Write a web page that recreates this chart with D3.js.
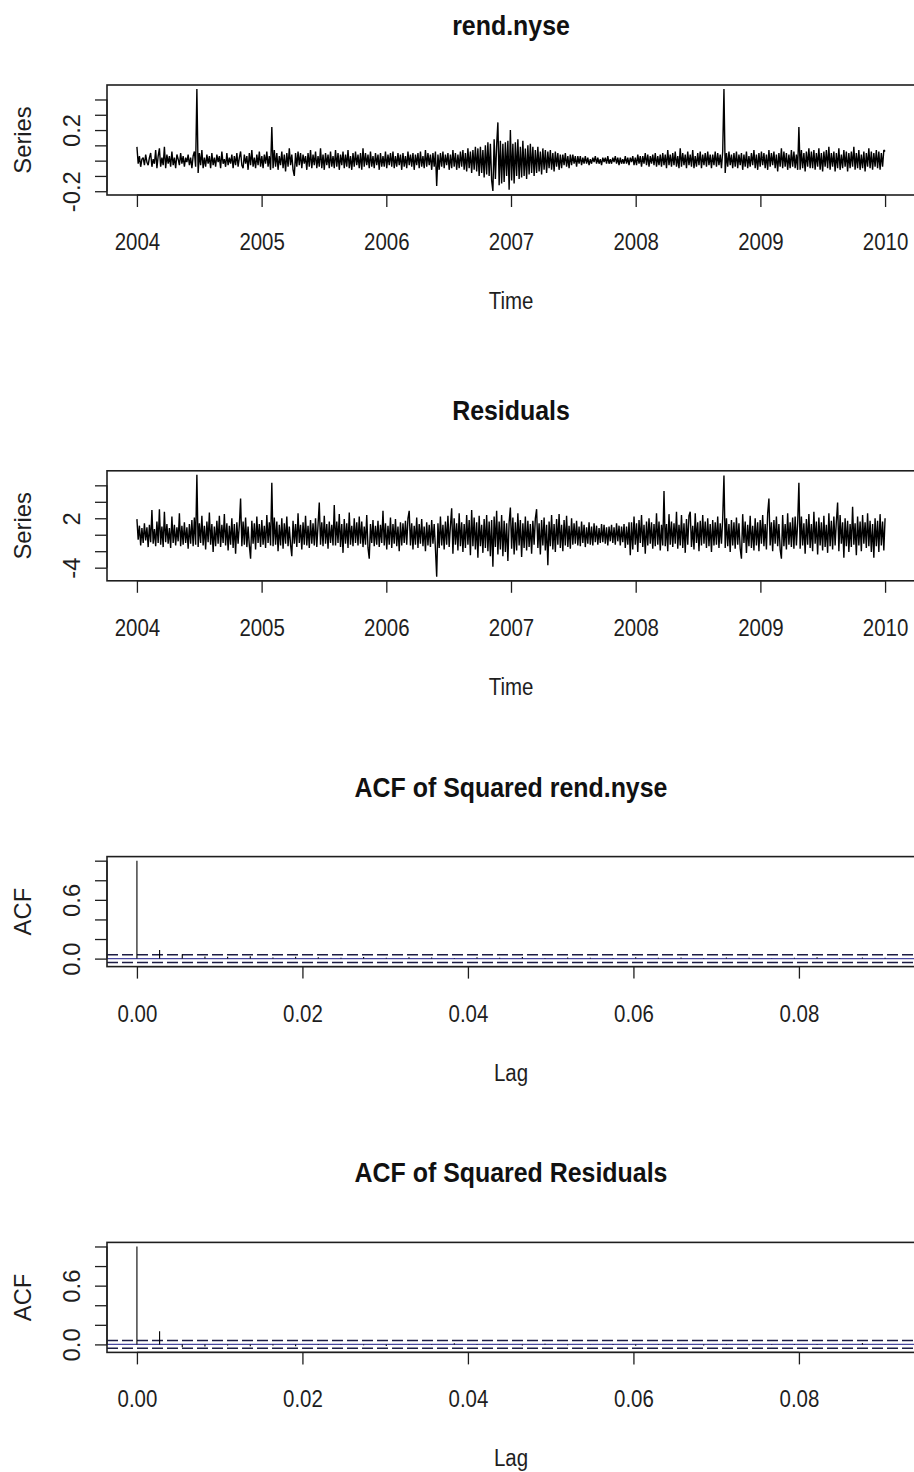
<!DOCTYPE html>
<html>
<head>
<meta charset="utf-8">
<script src="https://cdn.jsdelivr.net/npm/d3@7"></script>
<style>
  html, body { margin: 0; padding: 0; background: #fff; }
  svg { display: block; }
</style>
</head>
<body>
<svg id="chart" width="914" height="1472"></svg>
<script>
// ---- data ------------------------------------------------------------
// daily series, plotted on a yearly time axis
const startYear = 2004;
const endYear = 2010;

const rendNyse = [
  .09,-.02,.03,-.04,.01,.02,-.03,.04,-.01,-.03,.02,.05,-.04,.01,-.02,.07,-.05,.03,.08,-.04,
  .02,-.03,.09,-.05,.04,-.02,.03,-.04,.06,-.03,.02,-.05,.04,.01,-.03,.05,-.02,.03,-.04,.02,
  -.01,.04,-.03,.02,-.05,.03,.06,-.04,.468,-.08,.05,-.03,.07,-.05,.02,-.04,.04,-.02,.03,-.05,
  .05,-.03,.02,-.04,.04,-.01,.03,-.05,.06,-.02,.01,-.04,.05,-.03,.02,-.02,.04,-.05,.03,-.03,
  .05,-.04,.02,.06,-.03,-.05,.04,-.02,.03,-.06,.05,-.03,.07,-.04,.02,-.05,.04,-.03,.06,-.04,
  .03,-.05,.04,-.02,.06,-.04,.03,-.06,.22,-.05,.07,-.04,.05,-.06,.03,-.03,.06,-.05,.04,-.07,
  .05,-.04,.08,-.03,.04,-.06,-.10,.05,-.04,.06,-.03,.05,-.05,.04,-.02,.03,-.06,.05,-.04,.07,
  -.05,.04,-.03,.06,-.05,.03,-.04,.08,-.05,.04,-.06,.05,-.03,.04,-.05,.06,-.04,.03,-.05,.07,
  -.04,.05,-.06,.04,-.03,.06,-.05,.04,-.04,.07,-.05,.03,-.06,.05,-.04,.06,-.03,.04,-.05,.05,
  -.06,.08,-.04,.05,-.03,.04,-.05,.06,-.04,.03,-.05,.05,-.03,.04,-.06,.05,-.04,.03,-.04,.06,
  -.05,.04,-.03,.05,-.04,.06,-.05,.03,-.04,.05,-.03,.04,-.06,.05,-.04,.03,-.05,.06,-.03,.04,
  -.04,.05,-.06,.04,-.03,.05,-.05,.06,-.04,.03,-.05,.07,-.04,.05,-.03,.04,-.06,.05,-.04,.06,
  -.165,.04,-.06,.05,-.04,.06,-.05,.04,-.03,.05,-.06,.04,-.05,.07,-.04,.05,-.06,.04,-.05,.06,
  -.04,.07,-.06,.05,-.07,.08,-.05,.06,-.08,.07,-.06,.09,-.07,.08,-.10,.09,-.08,.07,-.11,.10,
  -.09,.12,-.10,.11,-.13,-.198,.14,-.12,.10,.25,-.16,.13,-.15,.11,-.14,.12,-.10,.13,-.19,.20,
  -.13,.11,-.15,.12,-.10,.14,-.12,.09,-.11,.13,-.10,.08,-.12,.10,-.09,.11,-.08,.09,-.10,.07,
  -.08,.09,-.07,.06,-.09,.08,-.06,.07,-.08,.06,-.05,.07,-.06,.05,-.07,.06,-.04,.05,-.06,.04,
  -.05,.04,-.03,.05,-.04,.03,-.05,.04,-.03,.04,-.02,.03,-.04,.03,-.02,.03,-.03,.02,-.02,.03,
  -.02,.02,-.03,.01,-.02,.02,-.01,.03,-.02,.02,-.02,.01,-.03,.02,-.01,.02,-.02,.03,-.02,.01,
  -.02,.02,-.01,.03,-.02,.02,-.03,.02,-.02,.01,-.02,.03,-.02,.02,-.03,.02,-.01,.03,-.03,.02,
  -.03,.04,-.02,.03,-.04,.03,-.02,.05,-.03,.04,-.04,.03,-.02,.04,-.03,.05,-.04,.03,-.03,.04,
  -.04,.05,-.03,.04,-.05,.07,-.03,.04,-.04,.05,-.03,.06,-.04,.03,-.05,.08,-.04,.05,-.03,.04,
  -.05,.06,-.03,.04,-.04,.07,-.05,.03,-.04,.05,-.03,.06,-.05,.04,-.03,.05,-.04,.06,-.03,.04,
  -.05,.04,-.03,.06,-.04,.05,-.03,.04,-.05,.06,.468,-.08,.05,-.04,.06,-.03,.04,-.05,.05,-.04,
  .06,-.05,.04,-.03,.05,-.06,.04,-.04,.06,-.05,.03,-.04,.05,-.03,.07,-.05,.04,-.06,.05,-.04,
  .06,-.03,.05,-.05,.04,-.06,.07,-.04,.05,-.03,.06,-.05,.04,-.07,.05,-.04,.08,-.05,.06,-.04,
  .05,-.06,.04,-.05,.07,-.04,.06,-.05,.04,-.06,.22,-.06,.07,-.05,.05,-.07,.06,-.04,.08,-.05,
  .06,-.05,.07,-.06,.05,-.04,.08,-.06,.05,-.07,.06,-.04,.07,-.05,.09,-.06,.05,-.04,.06,-.07,
  .05,-.05,.08,-.06,.04,-.05,.07,-.04,.06,-.07,.05,-.05,.06,-.04,.09,-.06,.05,-.05,.07,-.06,
  .04,-.05,.06,-.07,.05,-.04,.08,-.05,.06,-.06,.05,-.04,.07,-.05,.06,-.06,.05,-.04,.07,.06
];

const residuals = [
  1.9,-.6,1.1,-1.3,.8,-1.0,1.4,-.7,.9,-1.5,1.2,-.9,3.0,-1.1,.7,-1.4,1.6,-1.0,3.1,-1.2,
  1.0,-1.5,2.8,-.9,1.3,-1.1,.8,-1.6,2.2,-1.0,1.2,-1.3,.9,-.8,2.6,-1.4,1.1,-1.2,1.5,-1.0,
  .9,-1.7,1.3,-1.1,1.8,-1.4,2.1,-1.2,7.27,-1.5,1.4,-1.0,2.3,-1.3,1.1,-1.8,1.6,-.9,2.7,-1.2,
  1.3,-2.1,1.0,-1.4,1.7,-1.1,2.3,-1.5,1.2,-1.0,2.5,-1.3,1.4,-1.9,1.1,-1.2,2.0,-1.6,1.3,-2.3,
  1.5,-1.1,1.2,4.4,-1.4,1.6,-1.2,2.1,-1.5,1.0,-1.3,-2.9,1.7,-1.1,1.4,-1.8,2.2,-1.0,1.3,-1.5,
  1.8,-1.2,1.1,-1.6,2.4,-1.0,1.5,-1.3,6.3,-1.4,2.1,-1.2,1.6,-2.0,1.2,-1.3,2.0,-1.7,1.4,-1.1,
  2.2,-1.4,1.0,-1.2,-2.6,1.7,-1.1,1.3,-1.5,2.6,-1.0,1.2,-1.8,1.5,-1.2,2.3,-1.3,1.1,-1.6,1.8,
  -1.1,1.4,-1.3,2.0,-1.5,1.2,3.9,-1.2,1.5,-1.4,2.3,-1.1,1.3,-1.7,1.6,-1.0,1.2,-1.3,3.6,-1.3,
  1.6,-1.0,2.5,-1.5,1.3,-2.2,1.9,-1.1,1.4,-1.6,2.7,-1.2,1.1,-1.4,2.0,-1.0,1.5,-1.3,2.2,-1.1,
  1.6,-1.5,1.0,-1.2,2.4,-1.6,-2.9,1.3,-1.0,1.8,-1.4,1.1,-1.2,1.7,-1.5,1.2,-1.0,2.9,-1.3,1.4,
  -1.8,1.1,-1.2,2.1,-1.6,1.3,-1.1,1.9,-1.4,1.0,-2.0,1.5,-1.3,1.4,-1.0,1.7,-1.2,2.0,2.9,-1.3,
  1.4,-1.8,1.1,-1.2,2.1,-1.6,1.3,-1.1,1.9,-1.4,1.0,-2.0,1.5,-1.3,1.2,-1.5,1.8,-1.1,1.3,-1.7,
  -5.1,1.4,-1.6,2.2,-1.3,1.2,-1.8,1.6,-1.2,2.3,-1.5,1.1,3.2,-2.3,2.0,-1.2,1.4,-1.9,2.6,-1.4,
  1.5,-2.1,1.3,-1.6,2.4,-1.2,1.8,-2.5,3.0,-1.4,2.1,-1.8,1.5,-2.8,2.3,-1.4,1.2,-2.2,1.9,-1.6,
  2.4,-2.0,1.6,-2.6,1.8,-3.9,2.2,-1.5,2.9,-2.4,1.6,-1.8,2.4,-2.6,1.7,-2.1,1.4,-3.2,1.5,3.3,
  -1.7,2.1,-2.4,1.5,-1.9,2.6,-1.3,1.8,-2.7,1.4,-1.6,2.2,-1.9,1.7,-1.5,1.3,-2.3,1.7,-1.2,2.0,
  3.1,-1.6,1.4,-2.4,1.8,-1.3,2.1,-1.9,1.2,-3.7,1.6,-1.4,2.4,-1.8,1.3,-2.1,1.9,-1.2,2.5,-1.6,
  1.2,-2.0,1.8,-1.3,2.3,-1.5,1.1,-1.7,2.0,-1.2,1.4,-1.1,1.7,-1.3,1.0,-1.4,1.6,-1.0,1.2,-1.5,
  .9,-1.1,1.5,-1.2,1.0,-1.3,1.4,-.9,1.1,-1.2,.8,-1.0,1.3,-.9,1.2,-1.1,.9,-1.3,1.0,-.8,
  1.2,-1.0,.9,-1.2,1.4,-.8,1.1,-1.3,1.0,-.9,1.3,-1.6,1.0,-1.2,1.5,-2.5,1.5,-1.8,2.2,-1.2,
  1.4,-2.1,1.8,-1.0,2.4,-1.5,1.2,-2.3,1.6,-1.3,2.0,-1.1,1.5,-1.7,1.3,-1.4,2.6,-1.2,1.6,-1.9,
  1.2,-1.3,5.3,-1.4,1.3,-2.0,2.5,-1.2,1.6,-1.5,1.4,-1.1,2.8,-1.7,1.2,-1.3,2.4,-1.6,1.4,-2.2,
  1.9,-1.2,2.3,2.8,-1.5,1.1,-1.8,2.6,-1.0,1.5,-2.0,1.7,-1.3,2.4,-1.1,1.6,-1.6,2.0,-1.4,1.3,
  -2.1,1.8,-1.3,1.5,-1.2,2.2,-1.6,1.4,-1.1,2.0,7.2,-1.6,2.0,-1.4,1.3,-2.1,1.8,-1.3,1.5,-1.7,
  2.1,-1.2,1.4,-1.7,-2.9,2.5,-1.0,1.6,-2.2,1.2,-1.4,2.3,-1.6,1.1,-1.9,2.0,-1.3,1.5,-2.0,1.8,
  -1.1,2.4,-1.4,1.3,-1.8,2.6,4.4,-1.3,1.5,-2.0,1.8,-1.1,2.2,-1.4,1.3,-1.8,-2.9,2.4,-1.4,1.3,
  -1.8,2.6,-1.2,1.5,-1.5,2.1,-1.7,2.2,-1.3,1.4,6.3,-1.7,2.2,-1.3,1.4,-2.3,1.9,-1.2,2.5,-1.6,
  1.3,-2.0,2.8,-1.1,1.6,-2.4,2.1,-1.3,1.5,-1.9,2.3,-1.5,1.2,-2.2,2.6,-1.4,1.7,-1.8,2.2,-1.3,
  1.6,3.9,-2.0,2.4,-1.1,1.5,-2.8,2.0,-1.4,1.7,-2.1,1.3,-1.5,3.4,-1.2,1.4,-2.5,2.2,-1.3,1.6,
  -2.0,2.4,-1.1,1.5,-1.6,2.6,-1.4,1.7,-2.1,1.3,-2.8,2.0,-1.4,1.7,-2.1,2.5,-1.3,1.6,-1.9,2.0
];

// autocorrelations, lags 0..33 (lag unit = 1/365 year)
const lagFrequency = 365;
const acfSquaredRend = [
  1, .088, .045, .022, .018, .025, .012, .020, .015, .010, .017, .008, .014, .011, .006, .013, .009,
  .016, .007, .012, .010, .005, .014, .008, .011, .006, .012, .009, .004, .010, .013, .007, .011, .008
];
const acfSquaredResid = [
  1, .135, -.028, -.022, -.012, -.018, -.010, -.020, -.006, .004, -.008, -.015, -.005, .003, .012, -.007, -.004,
  -.011, .006, -.009, -.003, .005, -.013, -.006, .002, -.010, .004, -.008, -.005, .003, -.007, .002, .015, -.004
];
const acfBound = 0.04;

// axis ticks and the labels printed on them
const yearTicks = [2004, 2005, 2006, 2007, 2008, 2009, 2010];
const lagTicks = [0, 0.02, 0.04, 0.06, 0.08];
const lagTickLabels = ["0.00", "0.02", "0.04", "0.06", "0.08"];
const rendTicks = [-0.2, -0.1, 0, 0.1, 0.2, 0.3, 0.4];
const rendTickLabels = ["-0.2", "", "", "", "0.2", "", ""];
const residTicks = [-4, -2, 0, 2, 4, 6];
const residTickLabels = ["-4", "", "", "2", "", ""];
const acfTicks = [0, 0.2, 0.4, 0.6, 0.8, 1.0];
const acfTickLabels = ["0.0", "", "", "0.6", "", ""];

// ---- layout ----------------------------------------------------------
const svg = d3.select("#chart");
const FONT = "'Liberation Sans', Arial, Helvetica, sans-serif";
const INK = "#1e1e1e";
const plotLeft = 107, plotRight = 915, plotH = 110;
const panelTops = [85, 470.8, 856.6, 1242.4];
const titleGaps = [50, 51, 60, 60];
const squeeze = 0.87;      // horizontal text narrowing
const axisFont = 23.5;

function padRange(lo, hi) {
  const p = 0.04 * (hi - lo);
  return [lo - p, hi + p];
}

function lookup(ticks, labels) {
  return d => labels[ticks.indexOf(d)] || "";
}

function drawFrame(top, titleGap, cfg) {
  const g = svg.append("g");
  const x = d3.scaleLinear().domain(cfg.xDomain).range([plotLeft, plotRight]);
  const y = d3.scaleLinear().domain(cfg.yDomain).range([top + plotH, top]);
  const cx = (plotLeft + plotRight) / 2;

  // title
  g.append("g")
    .attr("transform", `translate(${cx},${top - titleGap}) scale(0.89,1)`)
    .append("text")
    .attr("text-anchor", "middle")
    .attr("font-family", FONT)
    .attr("font-weight", "bold")
    .attr("font-size", 28)
    .attr("fill", "#111")
    .text(cfg.title);

  // bottom axis
  const xa = g.append("g")
    .attr("transform", `translate(0,${top + plotH})`)
    .call(d3.axisBottom(x).tickValues(cfg.xTicks).tickSize(12).tickPadding(0).tickFormat(cfg.xFormat));
  xa.select(".domain").remove();
  xa.selectAll(".tick line").attr("stroke", INK).attr("stroke-width", 1.3);
  xa.selectAll(".tick text")
    .attr("y", 55).attr("dy", null)
    .attr("transform", `scale(${squeeze},1)`)
    .attr("font-family", FONT).attr("font-size", axisFont).attr("fill", INK);
  g.append("line")
    .attr("x1", x(cfg.xTicks[0])).attr("x2", x(cfg.xTicks[cfg.xTicks.length - 1]))
    .attr("y1", top + plotH).attr("y2", top + plotH)
    .attr("stroke", INK).attr("stroke-width", 1.3);

  // left axis with rotated labels
  const ya = g.append("g")
    .attr("transform", `translate(${plotLeft},0)`)
    .call(d3.axisLeft(y).tickValues(cfg.yTicks).tickSize(12).tickFormat(cfg.yFormat));
  ya.select(".domain").remove();
  ya.selectAll(".tick line").attr("stroke", INK).attr("stroke-width", 1.3);
  ya.selectAll(".tick text")
    .attr("x", 0).attr("y", -26.6).attr("dy", null)
    .attr("transform", "rotate(-90)")
    .attr("text-anchor", "middle")
    .attr("font-family", FONT).attr("font-size", 23.8).attr("fill", INK);
  g.append("line")
    .attr("x1", plotLeft).attr("x2", plotLeft)
    .attr("y1", y(cfg.yTicks[0])).attr("y2", y(cfg.yTicks[cfg.yTicks.length - 1]))
    .attr("stroke", INK).attr("stroke-width", 1.3);

  // axis titles
  g.append("g")
    .attr("transform", `translate(${cx},${top + plotH + 114}) scale(${squeeze},1)`)
    .append("text")
    .attr("text-anchor", "middle")
    .attr("font-family", FONT).attr("font-size", axisFont).attr("fill", INK)
    .text(cfg.xTitle);
  g.append("text")
    .attr("transform", `translate(31.4,${top + plotH / 2}) rotate(-90)`)
    .attr("text-anchor", "middle")
    .attr("font-family", FONT).attr("font-size", 23.8).attr("fill", INK)
    .text(cfg.yTitle);

  return { g, x, y, top };
}

function drawBox(p) {
  p.g.append("rect")
    .attr("x", plotLeft).attr("y", p.top)
    .attr("width", plotRight - plotLeft).attr("height", plotH)
    .attr("fill", "none").attr("stroke", INK).attr("stroke-width", 1.6);
}

// ---- time series panels -----------------------------------------------
function timeSeriesPanel(k, values, title, ticks, tickLabels) {
  const p = drawFrame(panelTops[k], titleGaps[k], {
    title,
    xDomain: padRange(startYear, endYear),
    yDomain: padRange(d3.min(values), d3.max(values)),
    xTicks: yearTicks, xFormat: d => String(d),
    yTicks: ticks, yFormat: lookup(ticks, tickLabels),
    xTitle: "Time", yTitle: "Series"
  });
  const step = (endYear - startYear) / (values.length - 1);
  const line = d3.line()
    .x((d, i) => p.x(startYear + i * step))
    .y(d => p.y(d));
  p.g.append("path")
    .datum(values)
    .attr("d", line)
    .attr("fill", "none")
    .attr("stroke", "#000")
    .attr("stroke-width", 1.4)
    .attr("stroke-linejoin", "bevel");
  drawBox(p);
}

// ---- autocorrelation panels --------------------------------------------
function acfPanel(k, values, title) {
  const lags = values.map((d, j) => j / lagFrequency);
  const lo = Math.min(-acfBound, d3.min(values));
  const hi = Math.max(acfBound, d3.max(values));
  const p = drawFrame(panelTops[k], titleGaps[k], {
    title,
    xDomain: padRange(0, d3.max(lags)),
    yDomain: padRange(lo, hi),
    xTicks: lagTicks, xFormat: lookup(lagTicks, lagTickLabels),
    yTicks: acfTicks, yFormat: lookup(acfTicks, acfTickLabels),
    xTitle: "Lag", yTitle: "ACF"
  });
  // confidence bounds
  [acfBound, -acfBound].forEach(b => {
    p.g.append("line")
      .attr("x1", plotLeft).attr("x2", plotRight)
      .attr("y1", p.y(b)).attr("y2", p.y(b))
      .attr("stroke", "#1d1d45").attr("stroke-width", 1.5)
      .attr("stroke-dasharray", "11,4");
  });
  // zero line
  p.g.append("line")
    .attr("x1", plotLeft).attr("x2", plotRight)
    .attr("y1", p.y(0)).attr("y2", p.y(0))
    .attr("stroke", "#4848a0").attr("stroke-width", 1.3);
  // spikes
  p.g.selectAll("line.spike")
    .data(values)
    .join("line")
    .attr("class", "spike")
    .attr("x1", (d, j) => p.x(lags[j])).attr("x2", (d, j) => p.x(lags[j]))
    .attr("y1", p.y(0)).attr("y2", d => p.y(d))
    .attr("stroke", "#000").attr("stroke-width", 1.1);
  drawBox(p);
}

timeSeriesPanel(0, rendNyse, "rend.nyse", rendTicks, rendTickLabels);
timeSeriesPanel(1, residuals, "Residuals", residTicks, residTickLabels);
acfPanel(2, acfSquaredRend, "ACF of Squared rend.nyse");
acfPanel(3, acfSquaredResid, "ACF of Squared Residuals");
</script>
</body>
</html>
